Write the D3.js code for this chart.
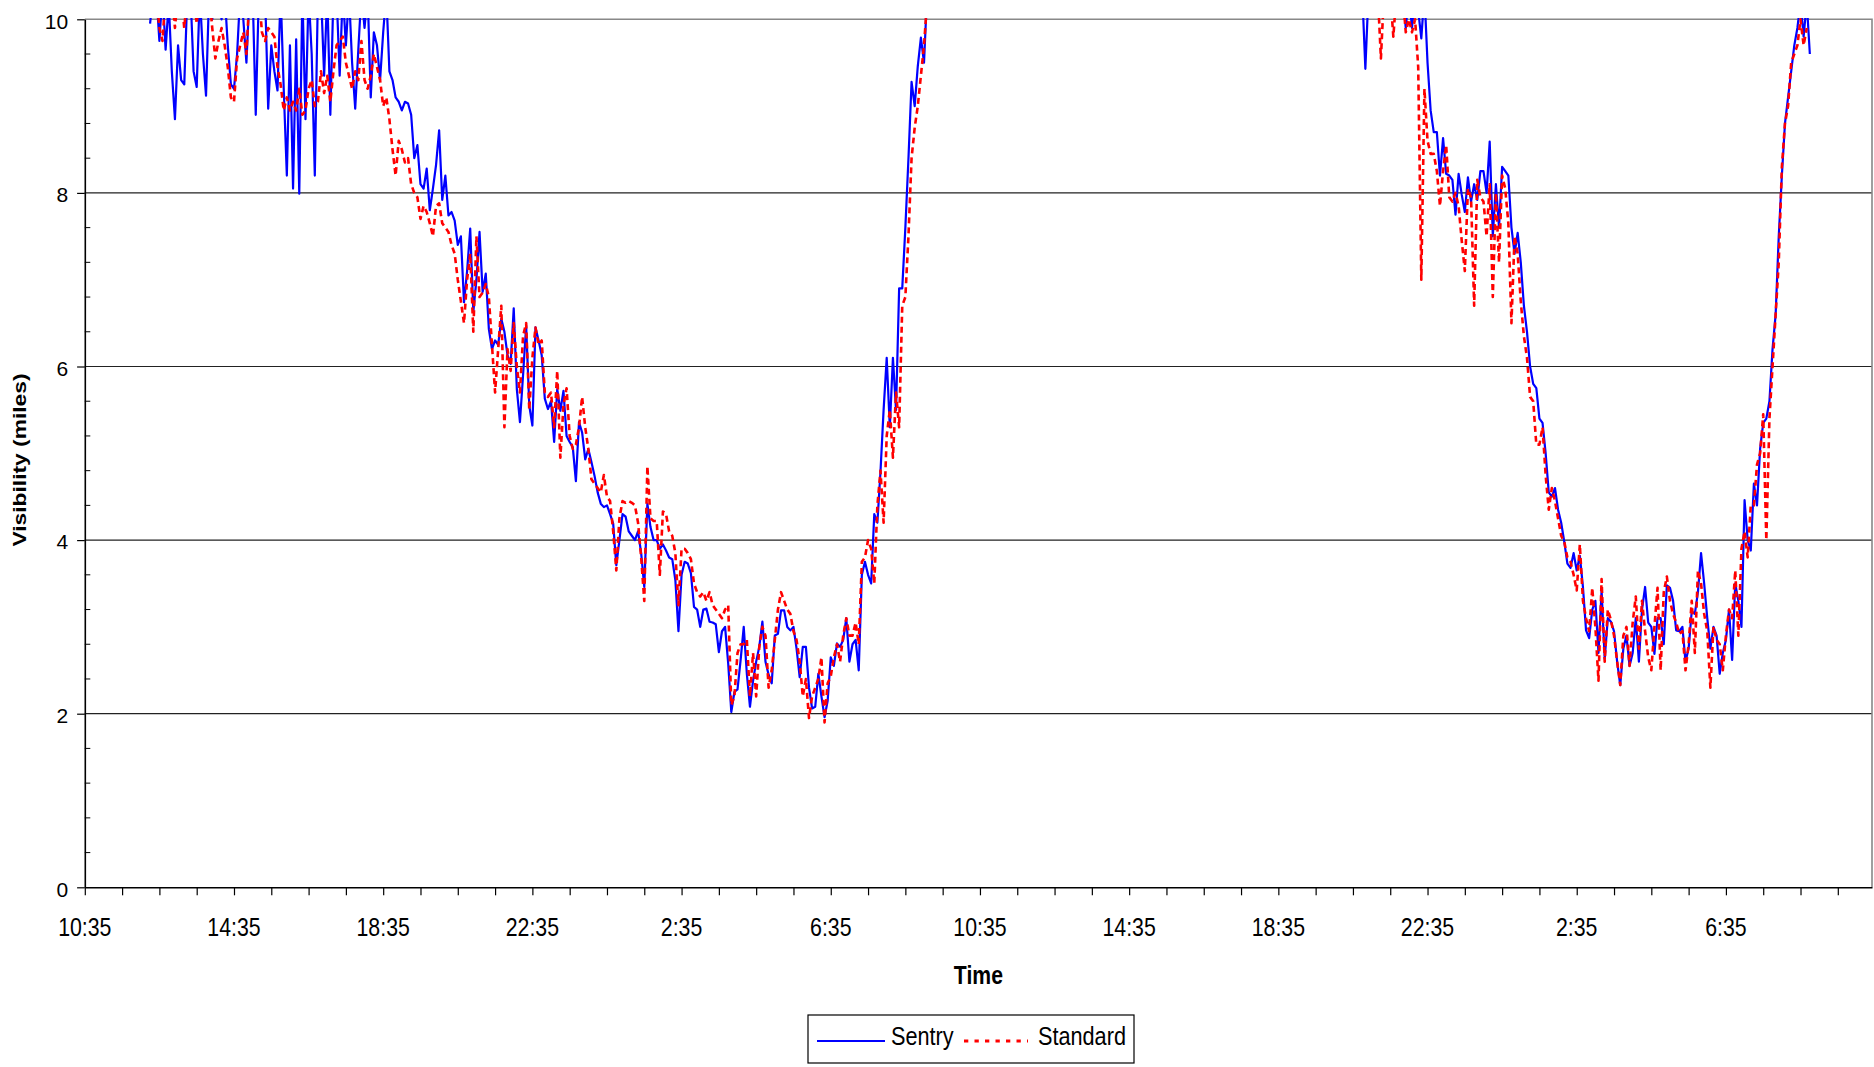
<!DOCTYPE html>
<html>
<head>
<meta charset="utf-8">
<script src="https://cdn.jsdelivr.net/npm/d3@7"></script>
<style>
  body { margin: 0; background: #fff; }
  text { font-family: "Liberation Sans", Arial, sans-serif; fill: #000; }
</style>
</head>
<body>
<div id="chart"></div>
<script>
// x tick labels, one every 4 hours from 10:35
const xTickLabels = ["10:35", "14:35", "18:35", "22:35", "2:35", "6:35",
                     "10:35", "14:35", "18:35", "22:35", "2:35", "6:35"];
const yTicks = [0, 2, 4, 6, 8, 10];
const seriesNames = ["Sentry", "Standard"];

// readings every 5 minutes; offsets are minutes after the first 10:35
const stepMin = 5;
const seg1Start = 105;   // 12:20
const seg2Start = 2055;  // 20:50 next day

// values above 10 run off the top of the chart
const sentry1 = [
  9.95, 10.3, 10.3, 9.75, 10.3, 9.65, 10.2, 9.4, 8.85, 9.7, 9.3, 9.25,
  10.3, 10.3, 9.4, 9.22, 10.3, 9.6, 9.12, 10.3, 10.0, 10.3, 10.3, 10.0,
  10.3, 9.7, 9.25, 9.2, 9.6, 10.3, 10.0, 9.5, 10.3, 10.3, 8.9, 10.3,
  10.3, 10.3, 8.97, 9.7, 9.4, 9.18, 10.3, 9.2, 8.2, 9.7, 8.05, 9.77,
  7.99, 10.3, 8.85, 10.3, 9.6, 8.2, 10.3, 10.3, 9.35, 10.3, 8.9, 10.3,
  10.3, 9.35, 10.3, 9.7, 10.3, 9.5, 8.97, 9.65, 10.3, 9.9, 10.3, 9.1,
  9.85, 9.7, 9.3, 9.85, 10.3, 9.4, 9.3, 9.1, 9.05, 8.95, 9.05, 9.03,
  8.9, 8.4, 8.55, 8.1, 8.05, 8.28, 7.8, 8.05, 8.32, 8.72, 7.92, 8.2,
  7.74, 7.78, 7.68, 7.4, 7.5, 6.74, 7.1, 7.59, 6.63, 7.0, 7.55, 6.86,
  7.07, 6.43, 6.2, 6.3, 6.25, 6.55, 6.4, 6.13, 6.03, 6.67, 5.74, 5.36,
  5.9, 6.47, 5.55, 5.32, 6.45, 6.3, 6.13, 5.63, 5.51, 5.6, 5.13, 5.74,
  5.49, 5.72, 5.2, 5.13, 5.07, 4.68, 5.36, 5.24, 4.93, 5.05, 4.9, 4.74,
  4.55, 4.42, 4.38, 4.4, 4.3, 4.19, 3.71, 4.0, 4.3, 4.27, 4.1, 4.05,
  4.0, 4.1, 3.85, 3.46, 4.42, 4.15, 4.0, 4.0, 3.9, 3.95, 3.88, 3.8,
  3.78, 3.54, 2.95, 3.6, 3.75, 3.73, 3.62, 3.23, 3.2, 3.0, 3.2, 3.21,
  3.06, 3.05, 3.03, 2.71, 2.95, 3.0, 2.58, 2.02, 2.25, 2.28, 2.62, 3.0,
  2.46, 2.08, 2.38, 2.6, 2.77, 3.06, 2.6, 2.45, 2.35, 2.9, 2.92, 3.19,
  3.19, 3.0, 2.96, 3.0, 2.75, 2.42, 2.77, 2.77, 2.3, 2.06, 2.08, 2.46,
  2.2, 1.96, 2.15, 2.65, 2.55, 2.81, 2.77, 2.85, 3.1, 2.6, 2.8, 2.85,
  2.5, 3.6, 3.75, 3.6, 3.5, 4.3, 4.2, 4.79, 5.5, 6.1, 5.3, 6.1,
  5.5, 6.9, 6.9, 7.6, 8.4, 9.28, 9.0, 9.46, 9.79, 9.5, 10.3
];
const standard1 = [
  10.3, 10.3, 10.3, 9.9, 9.75, 10.3, 10.3, 10.3, 9.9, 10.3, 10.3, 9.9,
  10.3, 10.3, 10.3, 9.95, 10.3, 10.3, 10.3, 10.3, 9.9, 9.55, 9.75, 9.9,
  9.7, 9.45, 9.1, 9.05, 9.55, 9.7, 9.85, 9.6, 10.3, 10.3, 10.3, 10.3,
  9.85, 9.75, 9.9, 9.85, 9.8, 9.45, 9.25, 8.95, 9.1, 8.95, 9.05, 8.95,
  9.2, 8.9, 8.95, 9.2, 9.3, 9.0, 9.05, 9.4, 9.15, 9.35, 9.05, 9.4,
  9.7, 9.75, 9.8, 9.5, 9.35, 9.2, 9.4, 9.3, 9.75, 9.3, 9.2, 9.35,
  9.6, 9.45, 9.3, 9.0, 9.1, 8.85, 8.5, 8.2, 8.6, 8.5, 8.35, 8.4,
  8.1, 8.0, 7.95, 7.7, 7.85, 7.78, 7.65, 7.5, 7.85, 7.88, 7.65, 7.6,
  7.55, 7.4, 7.3, 7.0, 6.75, 6.5, 7.0, 7.3, 6.4, 7.5, 6.8, 6.85,
  6.95, 6.8, 6.25, 5.7, 6.2, 6.7, 5.3, 6.2, 5.95, 6.5, 6.0, 5.7,
  6.35, 6.5, 5.5, 6.1, 6.45, 6.25, 6.3, 5.7, 5.65, 5.7, 5.3, 5.95,
  4.95, 5.55, 5.75, 5.2, 5.05, 5.1, 5.3, 5.65, 5.3, 5.05, 4.7, 4.65,
  4.6, 4.55, 4.75, 4.5, 4.45, 4.1, 3.65, 4.25, 4.45, 4.43, 4.45, 4.43,
  4.4, 4.2, 3.8, 3.3, 4.85, 4.25, 4.22, 4.22, 3.6, 4.33, 4.3, 4.1,
  4.05, 3.85, 3.25, 3.9, 3.9, 3.85, 3.78, 3.5, 3.4, 3.35, 3.4, 3.3,
  3.4, 3.25, 3.2, 3.15, 3.1, 3.2, 3.25, 2.1, 2.2, 2.7, 2.8, 2.8,
  2.85, 2.2, 2.7, 2.2, 2.77, 3.0, 2.9, 2.3, 2.5, 2.85, 3.2, 3.4,
  3.3, 3.2, 3.15, 2.95, 2.85, 2.6, 2.2, 2.4, 1.95, 2.2, 2.3, 2.4,
  2.65, 1.9, 2.35, 2.43, 2.65, 2.8, 2.6, 2.9, 3.1, 2.9, 2.9, 3.05,
  2.8, 3.75, 3.8, 4.0, 3.9, 3.5, 4.4, 4.8, 4.2, 5.2, 5.5, 4.95,
  5.7, 5.3, 6.7, 6.8, 7.5, 8.4, 8.75, 9.0, 9.35, 9.7, 10.2
];
const sentry2 = [
  10.3, 9.43, 10.3, 10.3, 10.3, 10.3, 10.3, 10.3, 10.3, 10.3, 10.3, 10.3,
  10.3, 10.3, 9.9, 10.3, 9.9, 10.3, 10.1, 9.78, 10.3, 9.5, 8.95, 8.7,
  8.7, 8.2, 8.63, 8.22, 8.2, 8.15, 7.75, 8.22, 7.98, 7.78, 8.18, 7.9,
  8.1, 7.92, 8.25, 8.25, 8.0, 8.59, 7.5, 8.1, 7.6, 8.3, 8.25, 8.2,
  7.6, 7.3, 7.54, 7.2, 6.7, 6.4, 6.0, 5.8, 5.75, 5.4, 5.35, 5.0,
  4.55, 4.5, 4.6, 4.35, 4.2, 3.98, 3.73, 3.68, 3.85, 3.65, 3.82, 3.46,
  2.96, 2.87, 3.2, 3.3, 2.7, 3.42, 2.63, 3.1, 3.06, 2.95, 2.6, 2.33,
  2.75, 2.9, 2.55, 2.7, 3.1, 2.6, 3.2, 3.46, 3.05, 3.0, 2.69, 3.1,
  3.1, 2.8, 3.48, 3.45, 3.3, 2.96, 2.95, 3.0, 2.6, 2.75, 3.18, 3.15,
  3.4, 3.85, 3.5, 3.1, 2.75, 3.0, 2.9, 2.46, 2.7, 2.85, 3.2, 2.62,
  3.5, 3.3, 3.0, 4.46, 4.0, 3.88, 4.65, 4.4, 5.05, 5.35, 5.4, 5.6,
  6.2, 6.6, 7.5, 8.2, 8.8, 9.1, 9.4, 9.7, 9.9, 10.2, 9.8, 10.2, 9.6
];
const standard2 = [
  10.3, 10.3, 10.3, 10.3, 10.3, 10.3, 9.55, 10.3, 10.3, 10.3, 9.8, 10.3,
  10.3, 10.3, 9.85, 10.0, 9.85, 10.0, 9.45, 7.0, 9.2, 8.6, 8.45, 8.45,
  8.25, 7.85, 8.25, 8.55, 7.95, 7.9, 8.0, 7.85, 7.45, 7.1, 8.05, 7.95,
  6.7, 8.15, 7.95, 7.9, 7.5, 8.1, 6.8, 8.0, 7.2, 8.2, 8.05, 7.65,
  6.5, 7.5, 7.3, 6.75, 6.35, 6.1, 5.65, 5.6, 5.1, 5.1, 5.3, 4.75,
  4.35, 4.6, 4.45, 4.25, 4.05, 3.98, 3.8, 3.75, 3.6, 3.42, 3.95, 3.3,
  3.1, 2.95, 3.45, 3.0, 2.38, 3.55, 2.6, 3.2, 3.08, 2.9, 2.6, 2.33,
  2.9, 3.0, 2.55, 3.05, 3.35, 2.75, 3.3, 2.95, 2.65, 2.5, 3.0, 3.45,
  2.5, 3.4, 3.58, 3.3, 3.15, 3.05, 2.92, 2.95, 2.5, 2.8, 3.3, 2.7,
  3.65, 3.5, 3.15, 2.95, 2.3, 3.0, 2.85, 2.8, 2.5, 2.9, 3.2, 3.1,
  3.65, 2.9, 3.9, 4.1, 3.8, 4.4, 4.4, 4.87, 5.0, 5.45, 4.0, 5.4,
  6.0, 6.6, 7.2, 8.3, 8.8, 9.0, 9.5, 9.6, 9.7, 10.0, 9.7, 9.9
];

const width = 1874;
const height = 1067;
const plotLeft = 84.8, plotRight = 1872, plotTop = 19.3, plotBottom = 887.3;

const x = d3.scaleLinear().domain([0, 2875]).range([plotLeft, plotRight]);
const y = d3.scaleLinear().domain([0, 10]).range([plotBottom, plotTop]);

const toPoints = (vals, start) => vals.map((v, i) => ({ t: start + i * stepMin, v }));

const svg = d3.select("#chart").append("svg")
  .attr("width", width)
  .attr("height", height)
  .style("display", "block");

svg.append("rect").attr("width", width).attr("height", height).attr("fill", "#fff");

// squeezed text, the original labels look like a narrow face
function narrowText(g, str, tx, ty, size, sx, anchor, weight) {
  return g.append("text")
    .attr("transform", `translate(${tx},${ty}) scale(${sx},1)`)
    .attr("text-anchor", anchor)
    .attr("font-size", size)
    .attr("font-weight", weight || "normal")
    .text(str);
}

// gridlines
svg.append("g").selectAll("line")
  .data(yTicks.filter(d => d > 0 && d < 10))
  .join("line")
  .attr("x1", plotLeft).attr("x2", plotRight)
  .attr("y1", d => y(d)).attr("y2", d => y(d))
  .attr("stroke", "#222").attr("stroke-width", 1.2);

// plot border (top and right)
svg.append("path")
  .attr("d", `M${plotLeft},${y(10)}H${plotRight}V${plotBottom}`)
  .attr("fill", "none").attr("stroke", "#888").attr("stroke-width", 1.6);

// clip lines to the plot area
svg.append("clipPath").attr("id", "plotClip")
  .append("rect")
  .attr("x", plotLeft).attr("y", plotTop - 1.2)
  .attr("width", plotRight - plotLeft).attr("height", plotBottom - plotTop + 1.2);

const line = d3.line().x(d => x(d.t)).y(d => y(d.v));
const series = [
  { name: "Sentry", segs: [toPoints(sentry1, seg1Start), toPoints(sentry2, seg2Start)],
    color: "#0000ff", width: 2.2, dash: null },
  { name: "Standard", segs: [toPoints(standard1, seg1Start), toPoints(standard2, seg2Start)],
    color: "#ff0000", width: 2.6, dash: "6,4" }
];

const lines = svg.append("g").attr("clip-path", "url(#plotClip)");
series.forEach(s => {
  lines.append("g").selectAll("path")
    .data(s.segs)
    .join("path")
    .attr("d", line)
    .attr("fill", "none")
    .attr("stroke", s.color)
    .attr("stroke-width", s.width)
    .attr("stroke-linejoin", "round")
    .attr("stroke-dasharray", s.dash);
});

// y axis
const yAxis = svg.append("g")
  .attr("transform", `translate(${plotLeft},0)`)
  .call(d3.axisLeft(y).tickValues(yTicks).tickSize(7.7).tickSizeOuter(0).tickPadding(9));
yAxis.select(".domain").attr("stroke", "#000").attr("stroke-width", 1.6);
yAxis.selectAll(".tick line").attr("stroke", "#000").attr("stroke-width", 1.2);
yAxis.selectAll(".tick text")
  .attr("font-size", 21)
  .attr("font-family", "'Liberation Sans', Arial, sans-serif")
  .attr("dy", "0.42em");

// minor ticks pointing inward
svg.append("g").selectAll("line")
  .data(d3.range(0.4, 10, 0.4).filter(d => Math.abs(d / 2 - Math.round(d / 2)) > 0.01))
  .join("line")
  .attr("x1", plotLeft).attr("x2", plotLeft + 5.5)
  .attr("y1", d => y(d)).attr("y2", d => y(d))
  .attr("stroke", "#000").attr("stroke-width", 1);

// x axis, one tick per hour
const xAxis = svg.append("g")
  .attr("transform", `translate(0,${plotBottom})`)
  .call(d3.axisBottom(x).tickValues(d3.range(0, 2875, 60)).tickSize(8).tickSizeOuter(0).tickFormat(""));
xAxis.select(".domain").attr("stroke", "#000").attr("stroke-width", 1.6);
xAxis.selectAll(".tick line").attr("stroke", "#000").attr("stroke-width", 1.2);

const labels = svg.append("g");
xTickLabels.forEach((lab, k) => {
  narrowText(labels, lab, x(k * 240), 936, 26, 0.82, "middle");
});

// axis titles
narrowText(labels, "Time", (plotLeft + plotRight) / 2, 984, 26.5, 0.8, "middle", "bold");
labels.append("text")
  .attr("transform", `translate(26,460) scale(0.8,1) rotate(-90)`)
  .attr("text-anchor", "middle")
  .attr("font-size", 22.8)
  .attr("font-weight", "bold")
  .text("Visibility (miles)");

// legend
const legend = svg.append("g");
legend.append("rect")
  .attr("x", 808).attr("y", 1015).attr("width", 326).attr("height", 48)
  .attr("fill", "#fff").attr("stroke", "#000").attr("stroke-width", 1.2);
legend.append("line")
  .attr("x1", 817).attr("x2", 885).attr("y1", 1041).attr("y2", 1041)
  .attr("stroke", series[0].color).attr("stroke-width", 2.2);
narrowText(legend, seriesNames[0], 891, 1045, 25.5, 0.85, "start");
legend.append("line")
  .attr("x1", 964).attr("x2", 1028).attr("y1", 1041).attr("y2", 1041)
  .attr("stroke", series[1].color).attr("stroke-width", 3).attr("stroke-dasharray", "4.3,6.2");
narrowText(legend, seriesNames[1], 1038, 1045, 25.5, 0.85, "start");
</script>
</body>
</html>
